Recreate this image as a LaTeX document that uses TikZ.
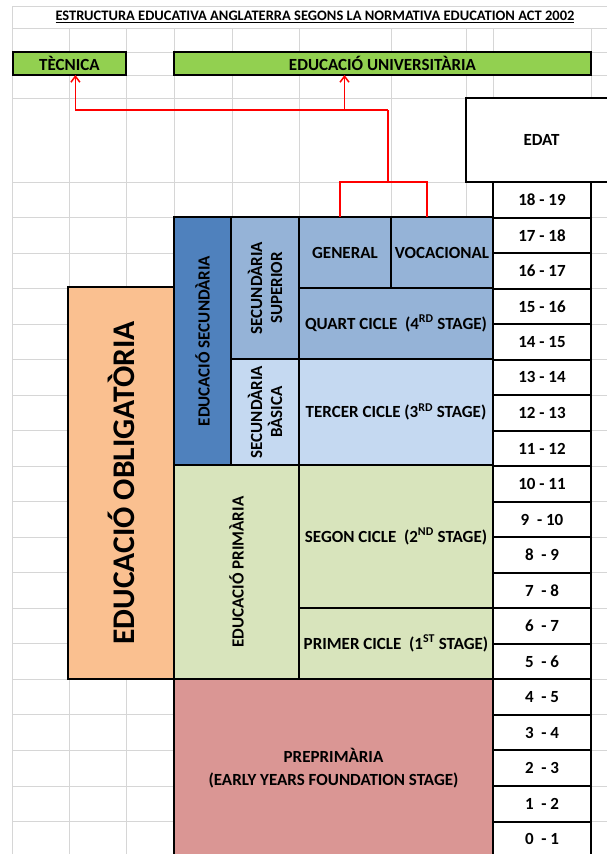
\documentclass[tikz,border=0pt]{standalone}
\usepackage{fontspec}
\setmainfont{Carlito}
\usepackage{xcolor}
\definecolor{xlgreen}{HTML}{92D050}
\definecolor{xlorange}{HTML}{FAC090}
\definecolor{xlblue}{HTML}{4F81BD}
\definecolor{xlsup}{HTML}{95B3D7}
\definecolor{xlbas}{HTML}{C5D9F1}
\definecolor{xlprim}{HTML}{D8E4BC}
\definecolor{xlpre}{HTML}{DA9694}
\definecolor{xlgrid}{HTML}{D6D6D6}
\usetikzlibrary{positioning,arrows.meta}

\begin{document}
\begin{tikzpicture}[x=1pt, y=-1pt,
  cell/.style={rectangle, draw, line width=2pt, inner sep=0pt, outer sep=0pt,
               align=center, font=\bfseries\fontsize{17}{20}\selectfont},
  vcell/.style={cell, rotate=90},
  agecell/.style={cell, fill=white, minimum width=98pt, minimum height=35.53pt},
  link/.style={red, line width=1.5pt},
  gridline/.style={xlgrid, line width=1pt},
]
\clip (0,0) rectangle (607,854);

% Spreadsheet grid
\foreach \gx in {12.7,69,126,174,232,299,391,466,493,591}
  \draw[gridline] (\gx,28) -- (\gx,860);
\draw[gridline] (12.7,6) -- (12.7,28);
\foreach \gy in {6,28,52,75,98}
  \draw[gridline] (12.7,\gy) -- (610,\gy);
\foreach \r in {0,...,19}
  \draw[gridline] (12.7,182+35.53*\r) -- (610,182+35.53*\r);

% Title
\node[font=\bfseries\fontsize{14.5}{16}\selectfont] (title) at (315,17)
  {\underline{ESTRUCTURA EDUCATIVA ANGLATERRA SEGONS LA NORMATIVA EDUCATION ACT 2002}};

% Top boxes
\node[cell, fill=xlgreen, minimum width=113.3pt, minimum height=23pt] (tec) at (69.4,63.5) {TÈCNICA};
\node[cell, fill=xlgreen, minimum width=417pt, minimum height=23pt] (univ) at (382.5,63.5) {EDUCACIÓ UNIVERSITÀRIA};
\node[cell, fill=white, minimum width=151pt, minimum height=84pt] (edat) at (541.5,140) {EDAT};

% Educació obligatòria
\node[vcell, fill=xlorange, minimum width=392pt, minimum height=106pt,
      font=\bfseries\fontsize{31.5}{31.5}\selectfont] (oblig) at (121,483) {EDUCACIÓ OBLIGATÒRIA};

% Secundària
\node[vcell, fill=xlblue, minimum width=248pt, minimum height=57pt] (sec) at (202.5,341) {EDUCACIÓ SECUNDÀRIA};
\node[vcell, fill=xlsup, minimum width=142pt, minimum height=68pt] (ssup) at (265,288) {SECUNDÀRIA\\SUPERIOR};
\node[vcell, fill=xlbas, minimum width=106pt, minimum height=68pt] (sbas) at (265,412) {SECUNDÀRIA\\BÀSICA};
\node[cell, fill=xlsup, minimum width=92pt, minimum height=71pt] (gen) at (345,252.5) {GENERAL};
\node[cell, fill=xlsup, minimum width=102pt, minimum height=71pt] (voc) at (442,252.5) {VOCACIONAL};
\node[cell, fill=xlsup, minimum width=194pt, minimum height=71pt] (quart) at (396,323.5)
  {QUART CICLE~ (4\textsuperscript{RD} STAGE)};
\node[cell, fill=xlbas, minimum width=194pt, minimum height=106pt] (tercer) at (396,412)
  {TERCER CICLE (3\textsuperscript{RD} STAGE)};

% Primària
\node[vcell, fill=xlprim, minimum width=214pt, minimum height=125pt] (prim) at (236.5,572) {EDUCACIÓ PRIMÀRIA};
\node[cell, fill=xlprim, minimum width=194pt, minimum height=143pt] (segon) at (396,536.5)
  {SEGON CICLE~ (2\textsuperscript{ND} STAGE)};
\node[cell, fill=xlprim, minimum width=194pt, minimum height=71pt] (primer) at (396,643.5)
  {PRIMER CICLE~ (1\textsuperscript{ST} STAGE)};

% Preprimària
\node[cell, fill=xlpre, minimum width=319pt, minimum height=178pt,
      font=\bfseries\fontsize{17}{23}\selectfont] (pre) at (333.5,768)
  {PREPRIMÀRIA\\(EARLY YEARS FOUNDATION STAGE)};

% Age column
\foreach \lab [count=\i from 0] in {18 - 19, 17 - 18, 16 - 17, 15 - 16, 14 - 15, 13 - 14,
    12 - 13, 11 - 12, 10 - 11, 9~ - 10, 8~ - 9, 7~ - 8, 6~ - 7, 5~ - 6, 4~ - 5,
    3~ - 4, 2~ - 3, 1~ - 2, 0~ - 1}
  \node[agecell] (age\i) at (542,199.77+35.53*\i) {\lab};

% Red links towards further education
\coordinate (split) at (388,182);
\coordinate (fork) at (388,110);
\draw[link] ([xshift=-5pt]gen.north) |- (split) -| ([xshift=-15pt]voc.north);
\draw[link] (split) -- (fork);
\draw[link, -{Straight Barb[length=6pt,width=9pt]}] (fork) -| ([xshift=6pt]tec.south);
\draw[link, -{Straight Barb[length=6pt,width=9pt]}] (fork) -| ([xshift=-38pt]univ.south);

\end{tikzpicture}
\end{document}
